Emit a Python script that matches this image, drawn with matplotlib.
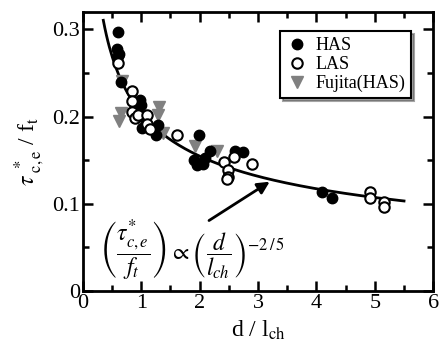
import numpy as np
import matplotlib
matplotlib.use("Agg")
from matplotlib import pyplot as plt

plt.rcParams['font.family'] = ['Liberation Serif', 'DejaVu Serif']
plt.rcParams['mathtext.fontset'] = 'stix'

# HAS (filled)
has_x = [0.595, 0.59, 0.6, 0.62, 0.65, 0.98, 1.0, 1.03, 1.02, 1.29, 1.26,
         1.99, 1.9, 1.95, 2.05, 2.1, 2.18, 2.6, 2.74, 4.09, 4.27]
has_y = [0.297, 0.277, 0.270, 0.272, 0.240, 0.219, 0.213, 0.200, 0.187, 0.190, 0.179,
         0.179, 0.150, 0.145, 0.146, 0.153, 0.160, 0.161, 0.159, 0.114, 0.106]
# LAS (open)
las_x = [0.595, 0.835, 0.835, 0.835, 0.89, 0.95, 1.09, 1.10, 1.15, 1.61,
         2.41, 2.58, 2.49, 2.49, 2.46, 2.89, 4.92, 4.92, 5.15, 5.15]
las_y = [0.261, 0.229, 0.218, 0.205, 0.198, 0.202, 0.202, 0.191, 0.186, 0.179,
         0.148, 0.154, 0.139, 0.131, 0.128, 0.146, 0.113, 0.106, 0.102, 0.096]
# Fujita (HAS)
fuj_x = [0.675, 0.66, 0.62, 1.31, 1.29, 1.37, 1.92, 2.29]
fuj_y = [0.241, 0.204, 0.195, 0.211, 0.202, 0.181, 0.166, 0.161]

fit_a = 0.204
fit_x = np.linspace(0.35, 5.5, 200)
fit_y = fit_a * fit_x ** (-0.4)

fig = plt.figure(figsize=(4.48, 3.53), dpi=100)
ax = fig.add_axes([0.185, 0.176, 0.782, 0.79])

ax.plot(fit_x, fit_y, color='black', lw=2, zorder=1)
ax.plot(has_x, has_y, 'o', color='black', ms=7.5, label='HAS', zorder=3)
ax.plot(las_x, las_y, 'o', mfc='white', mec='black', mew=1.5, ms=7.5, label='LAS', zorder=3)
ax.plot(fuj_x, fuj_y, 'v', color='#808080', ms=8.5, label='Fujita(HAS)', zorder=2)

ax.annotate('', xy=(3.24, 0.127), xytext=(2.12, 0.079),
            arrowprops=dict(arrowstyle='-|>', color='black', lw=2, mutation_scale=18))
ax.text(0.27, 0.046,
        r'$\left(\dfrac{\tau^{*}_{c,e}}{f_t}\right)\propto\left(\dfrac{d}{l_{ch}}\right)^{-2\,/\,5}$',
        fontsize=17, va='center', ha='left')

ax.set_xlim(0, 6)
ax.set_ylim(0, 0.32)
ax.set_xticks(range(0, 7))
ax.set_xticks(np.arange(0.5, 6, 1.0), minor=True)
ax.set_yticks([0, 0.1, 0.2, 0.3])
ax.set_yticklabels(['0', '0.1', '0.2', '0.3'])
ax.set_yticks([0.05, 0.15, 0.25], minor=True)
ax.tick_params(which='both', direction='in', top=True, right=True, width=1.8, labelsize=16)
ax.tick_params(which='major', length=7, pad=2)
ax.tick_params(which='minor', length=4)
for s in ax.spines.values():
    s.set_linewidth(2)

ax.set_xlabel(r'd / l$_{\rm ch}$', fontsize=17)
ax.set_ylabel(r'$\tau^{\ *}_{\ \rm c,e}$ / f$_{\rm t}$', fontsize=17)

leg = ax.legend(loc='upper right', bbox_to_anchor=(0.963, 0.965), fontsize=13,
                frameon=True, fancybox=False, shadow=True, handletextpad=0.4,
                borderpad=0.35, labelspacing=0.1, handlelength=1.2)
leg.get_frame().set_edgecolor('black')
leg.get_frame().set_linewidth(1.5)

fig.savefig('out.png', dpi=100)
